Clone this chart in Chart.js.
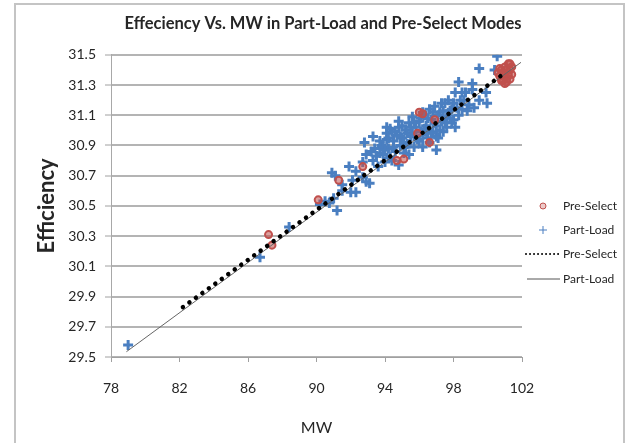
<!DOCTYPE html>
<html>
<head>
<meta charset="utf-8">
<script src="https://cdn.jsdelivr.net/npm/chart.js@4.4.0/dist/chart.umd.min.js"></script>
<style>
  html, body { margin: 0; padding: 0; background: #fff; }
</style>
</head>
<body>
<canvas id="myChart" width="630" height="443"></canvas>
<script>
const xTicks = [78, 82, 86, 90, 94, 98, 102];
const yTicks = [29.5, 29.7, 29.9, 30.1, 30.3, 30.5, 30.7, 30.9, 31.1, 31.3, 31.5];

const preSelectMW = [87.2, 87.4, 90.1, 91.3, 92.7, 94.7, 95.1, 96.0, 96.2, 96.9, 96.6, 95.9,
  100.7, 100.8, 100.9, 101.0, 101.0, 101.1, 101.1, 101.2, 101.2, 101.3, 101.3, 100.9,
  100.6, 100.7, 101.4, 101.4, 101.0, 100.8, 101.3, 101.1];
const preSelectEff = [30.31, 30.24, 30.54, 30.67, 30.76, 30.80, 30.81, 31.12, 31.11, 31.07, 30.92, 30.98,
  31.36, 31.40, 31.33, 31.42, 31.37, 31.34, 31.40, 31.44, 31.37, 31.40, 31.34, 31.38,
  31.38, 31.41, 31.37, 31.42, 31.31, 31.33, 31.44, 31.32];

const partLoadMW = [79.0, 86.7, 88.4, 90.2, 90.5, 90.75, 91.0, 91.2, 90.9, 91.1, 91.5, 91.5, 91.9, 92.0,
  92.1, 92.3, 92.3, 92.7, 92.7, 92.8, 92.9, 92.9, 93.1, 93.2, 93.3, 93.3, 93.4, 93.6, 93.7, 93.8,
  93.9, 93.9, 94.0, 94.1, 94.1, 94.1, 94.2, 94.3, 94.4, 94.4, 94.5, 94.6, 94.7, 94.8, 94.8, 94.8,
  94.9, 95.0, 95.1, 95.2, 95.2, 95.3, 95.4, 95.4, 95.5, 95.6, 95.6, 95.7, 95.8, 95.9, 96.0, 96.1,
  96.2, 96.2, 96.3, 96.4, 96.4, 96.5, 96.6, 96.6, 96.7, 96.8, 96.8, 96.9, 97.0, 97.0, 97.0, 97.1,
  97.2, 97.3, 97.3, 97.4, 97.5, 97.6, 97.6, 97.7, 97.8, 97.9, 98.0, 98.1, 98.1, 98.2, 98.3, 98.3,
  98.5, 98.5, 98.6, 98.8, 98.9, 99.1, 99.1, 99.2, 99.5, 99.5, 99.9, 99.96, 100.4, 100.55,
  93.5, 93.7, 94.0, 94.2, 94.3, 94.5, 94.6, 94.9, 95.0, 95.1, 95.3, 95.5, 95.7, 95.8, 96.0,
  96.1, 96.3, 96.5, 96.7, 96.9, 97.1, 97.2, 97.4, 97.5, 97.8, 98.0, 98.4, 98.7, 97.9, 96.2];
const partLoadEff = [29.58, 30.16, 30.36, 30.51, 30.53, 30.52, 30.55, 30.47, 30.72, 30.70, 30.60, 30.64, 30.76, 30.59,
  30.67, 30.59, 30.73, 30.69, 30.79, 30.92, 30.66, 30.84, 30.65, 30.86, 30.80, 30.96, 30.88, 30.76, 30.85, 30.90,
  30.84, 30.89, 30.79, 30.94, 30.98, 31.02, 30.88, 30.82, 30.99, 30.80, 30.93, 30.86, 30.97, 31.02, 31.06, 30.77,
  30.90, 30.95, 30.85, 31.00, 30.89, 30.91, 31.05, 30.84, 30.96, 31.09, 30.98, 30.89, 31.02, 30.94, 31.06, 30.99,
  30.89, 31.12, 31.10, 31.03, 30.99, 30.95, 30.92, 31.14, 31.07, 30.99, 31.12, 31.16, 31.03, 30.96, 30.87, 30.95,
  31.12, 31.06, 31.18, 30.99, 31.18, 31.09, 31.02, 31.20, 31.13, 31.05, 31.07, 31.25, 31.02, 31.15, 31.10, 31.32,
  31.14, 31.25, 31.20, 31.13, 31.17, 31.31, 31.27, 31.15, 31.20, 31.41, 31.25, 31.18, 31.40, 31.49,
  30.83, 30.93, 30.87, 30.95, 31.01, 30.89, 30.99, 30.96, 31.03, 30.92, 30.98, 31.02, 31.05, 30.96, 30.93,
  31.08, 31.01, 31.08, 30.98, 31.05, 31.10, 31.00, 31.13, 31.05, 31.08, 31.18, 31.20, 31.25, 31.14, 30.97];

// trendline end points
const preSelectTrendMW = [82.2, 101.0];
const preSelectTrendEff = [29.83, 31.38];
const partLoadTrendMW = [78.9, 101.94];
const partLoadTrendEff = [29.535, 31.45];

const RED = "#c0504d";
const BLUE = "#4a7fc1";
const FONT = "Lato, 'Open Sans', sans-serif";

function toPoints(xs, ys) {
  return xs.map((x, i) => ({ x: x, y: ys[i] }));
}

const framePlugin = {
  id: "frame",
  beforeDraw(chart) {
    const ctx = chart.ctx;
    ctx.save();
    ctx.fillStyle = "#fff";
    ctx.fillRect(0, 0, chart.width, chart.height);
    ctx.strokeStyle = "#c4c4c4";
    ctx.lineWidth = 2;
    ctx.strokeRect(15, 4, 609, 470);
    ctx.restore();
  }
};

const legendPlugin = {
  id: "sideLegend",
  afterDraw(chart) {
    const ctx = chart.ctx;
    ctx.save();
    ctx.font = "12px " + FONT;
    ctx.textBaseline = "middle";
    ctx.textAlign = "left";

    ctx.strokeStyle = RED;
    ctx.fillStyle = "rgba(192,80,77,0.3)";
    Chart.helpers.drawPoint(ctx, { pointStyle: "circle", radius: 3, borderWidth: 2, rotation: 0 }, 543, 206);
    ctx.strokeStyle = BLUE;
    Chart.helpers.drawPoint(ctx, { pointStyle: "cross", radius: 4, borderWidth: 3, rotation: 0 }, 543, 230);

    ctx.strokeStyle = "#000";
    ctx.lineWidth = 2;
    ctx.lineCap = "round";
    ctx.setLineDash([0.01, 4]);
    ctx.beginPath();
    ctx.moveTo(526, 254);
    ctx.lineTo(560, 254);
    ctx.stroke();

    ctx.setLineDash([]);
    ctx.lineCap = "butt";
    ctx.strokeStyle = "#555";
    ctx.lineWidth = 1;
    ctx.beginPath();
    ctx.moveTo(527, 279);
    ctx.lineTo(560, 279);
    ctx.stroke();

    ctx.fillStyle = "#262626";
    ctx.fillText("Pre-Select", 563, 206);
    ctx.fillText("Part-Load", 563, 230);
    ctx.fillText("Pre-Select", 563, 254);
    ctx.fillText("Part-Load", 563, 279);
    ctx.restore();
  }
};

const ctx = document.getElementById("myChart").getContext("2d");
new Chart(ctx, {
  type: "scatter",
  data: {
    datasets: [
      {
        label: "Pre-Select trend",
        data: toPoints(preSelectTrendMW, preSelectTrendEff),
        showLine: true,
        borderColor: "#000",
        borderWidth: 4.5,
        borderDash: [0.01, 8],
        borderCapStyle: "round",
        pointRadius: 0,
        order: 0
      },
      {
        label: "Part-Load trend",
        data: toPoints(partLoadTrendMW, partLoadTrendEff),
        showLine: true,
        borderColor: "#666",
        borderWidth: 1,
        pointRadius: 0,
        order: 1
      },
      {
        label: "Pre-Select",
        data: toPoints(preSelectMW, preSelectEff),
        pointStyle: "circle",
        pointRadius: 3.5,
        borderWidth: 2,
        borderColor: RED,
        backgroundColor: "rgba(192,80,77,0.55)",
        order: 2
      },
      {
        label: "Part-Load",
        data: toPoints(partLoadMW, partLoadEff),
        pointStyle: "cross",
        pointRadius: 5,
        borderWidth: 3,
        borderColor: BLUE,
        backgroundColor: BLUE,
        order: 3
      }
    ]
  },
  options: {
    responsive: false,
    animation: false,
    events: [],
    layout: { padding: { left: 16, right: 0, top: 0, bottom: 0 } },
    plugins: {
      legend: { display: false },
      tooltip: { enabled: false },
      title: {
        display: true,
        text: "Effeciency Vs. MW in Part-Load and Pre-Select Modes",
        color: "#262626",
        font: { family: FONT, size: 16.5, weight: "bold" },
        padding: { top: 14, bottom: 21 }
      }
    },
    scales: {
      x: {
        type: "linear",
        min: 78,
        max: 102,
        afterBuildTicks: (scale) => { scale.ticks = xTicks.map(v => ({ value: v })); },
        afterFit: (scale) => { scale.height = 86; },
        ticks: {
          color: "#262626",
          font: { family: FONT, size: 14 },
          padding: 18
        },
        grid: {
          drawOnChartArea: false,
          drawTicks: true,
          tickLength: 5,
          tickColor: "#a0a0a0",
          color: "#a0a0a0"
        },
        border: { color: "#a0a0a0", width: 1 },
        title: {
          display: true,
          text: "MW",
          color: "#262626",
          font: { family: FONT, size: 16 },
          padding: { top: 0, bottom: 6 }
        }
      },
      y: {
        type: "linear",
        position: "left",
        min: 29.5,
        max: 31.5,
        afterBuildTicks: (scale) => { scale.ticks = yTicks.map(v => ({ value: v })); },
        afterFit: (scale) => { scale.width = 95; },
        ticks: {
          color: "#262626",
          font: { family: FONT, size: 14 },
          padding: 9,
          callback: (v) => Number(v).toFixed(1)
        },
        grid: {
          color: "#b4b4b4",
          lineWidth: 2,
          tickLength: 6,
          tickColor: "#a0a0a0",
          tickWidth: 1
        },
        border: { color: "#a8a8a8", width: 1 },
        title: {
          display: true,
          text: "Efficiency",
          color: "#262626",
          font: { family: FONT, size: 22, weight: "bold" },
          padding: { top: 18, bottom: 0 }
        }
      },
      // empty right-hand band that holds the legend
      side: {
        type: "linear",
        position: "right",
        afterFit: (scale) => { scale.width = 108; },
        ticks: { display: false },
        grid: { display: false, drawTicks: false },
        border: { display: false }
      }
    }
  },
  plugins: [framePlugin, legendPlugin]
});
</script>
</body>
</html>
